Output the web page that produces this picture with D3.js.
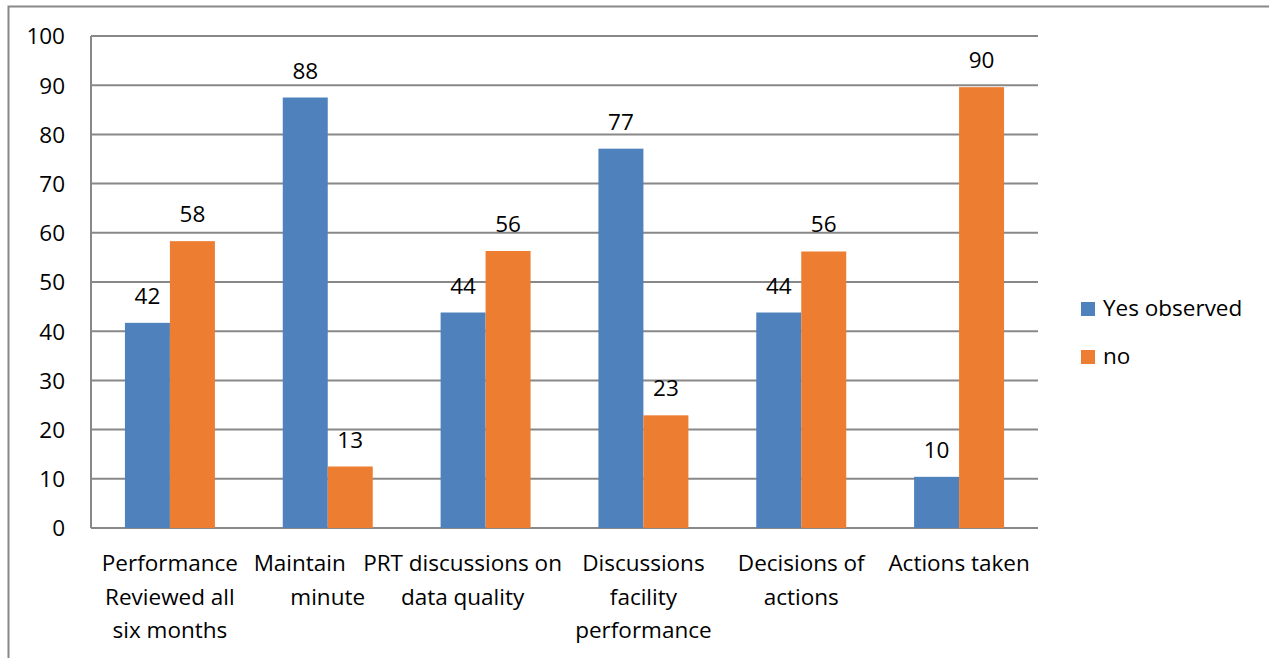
<!DOCTYPE html>
<html><head><meta charset="utf-8">
<script src="https://cdn.jsdelivr.net/npm/d3@7/dist/d3.min.js"></script>
<style>
html,body{margin:0;padding:0;background:#fff;}
svg{display:block;font-family:"Open Sans",sans-serif;}
</style></head>
<body><svg id="c" width="1269" height="658"></svg>
<script>
const categories = [
  ["Performance","Reviewed all","six months"],
  ["Maintain","minute"],
  ["PRT discussions on","data quality"],
  ["Discussions","facility","performance"],
  ["Decisions of","actions"],
  ["Actions taken"]
];
const seriesNames = ["Yes observed","no"];
const yesValues = [41.7, 87.5, 43.8, 77.1, 43.8, 10.4];
const noValues  = [58.3, 12.5, 56.3, 22.9, 56.2, 89.6];
const yTicks = [0,10,20,30,40,50,60,70,80,90,100];
const colors = ["#4f81bd","#ed7d31"];
const FONT = "\"Open Sans\",sans-serif";
const FS = 22.5;

const svg = d3.select("#c");
svg.append("rect").attr("x",8.5).attr("y",6.5).attr("width",1300).attr("height",700)
  .attr("fill","none").attr("stroke","#888").attr("stroke-width",2);

const L=91, R=1038, T=36, B=528;
const x0 = d3.scaleBand().domain(d3.range(categories.length)).range([L,R]).paddingInner(0.43).paddingOuter(0.215);
const x1 = d3.scaleBand().domain([0,1]).range([0,x0.bandwidth()]);
const y = d3.scaleLinear().domain([0,100]).range([B,T]);

svg.append("g").selectAll("line").data(yTicks).join("line")
  .attr("x1",L).attr("x2",R).attr("y1",d=>y(d)).attr("y2",d=>y(d))
  .attr("stroke","#888").attr("stroke-width",2);
svg.append("line").attr("x1",L).attr("x2",L).attr("y1",T).attr("y2",B).attr("stroke","#888").attr("stroke-width",2);

const yAxis = d3.axisLeft(y).tickValues(yTicks).tickSize(0).tickPadding(0);
const ga = svg.append("g").attr("transform",`translate(${L-26},0)`).call(yAxis);
ga.select(".domain").remove();
ga.selectAll("text").attr("font-size",FS).attr("fill","#000").attr("font-family",FONT).attr("dy","0.35em");

const data = [yesValues,noValues];
data.forEach((vals,si)=>{
  const g = svg.append("g");
  g.selectAll("rect").data(vals).join("rect")
    .attr("x",(d,i)=>x0(i)+x1(si)).attr("width",x1.bandwidth())
    .attr("y",d=>y(d)).attr("height",d=>B-y(d)).attr("fill",colors[si]);
  g.selectAll("text").data(vals).join("text")
    .attr("x",(d,i)=>x0(i)+x1(si)+x1.bandwidth()/2)
    .attr("y",d=>y(d)-19).attr("text-anchor","middle").attr("font-size",FS).attr("fill","#000")
    .text(d=>Math.round(d));
});

// category labels; a few lines are nudged left as in the original layout
const lineShift = (i,j) => (i===2 ? -23 : (i===1 && j===0 ? -28 : 0));
const xl = svg.append("g");
categories.forEach((lines,i)=>{
  const t = xl.append("text").attr("text-anchor","middle").attr("font-size",FS).attr("fill","#000");
  lines.forEach((ln,j)=>{
    t.append("tspan").attr("x",x0(i)+x0.bandwidth()/2+lineShift(i,j)).attr("y",571+j*33.5).text(ln);
  });
});

const lg = svg.append("g");
seriesNames.forEach((n,i)=>{
  lg.append("rect").attr("x",1081).attr("y",302+i*48).attr("width",14).attr("height",14).attr("fill",colors[i]);
  lg.append("text").attr("x",1103).attr("y",316+i*48).attr("font-size",FS).attr("fill","#000").text(n);
});
</script></body></html>
